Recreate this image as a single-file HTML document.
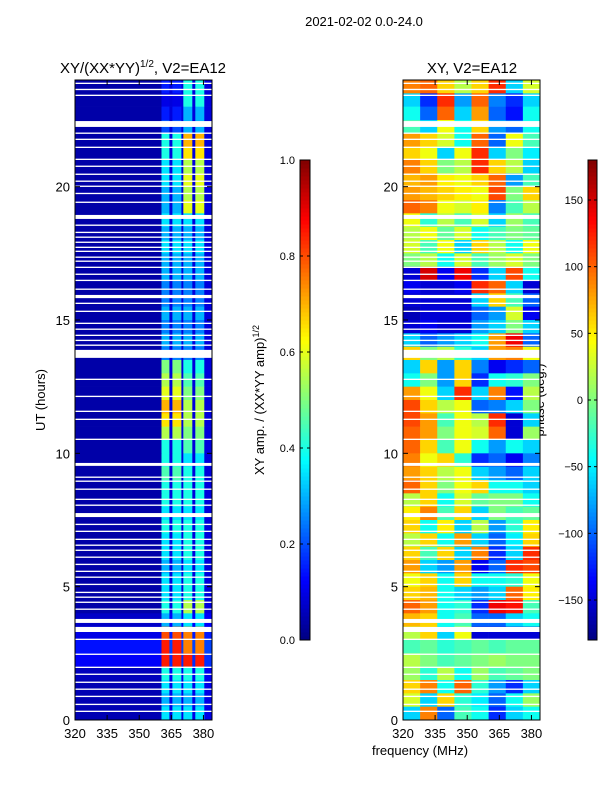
<!DOCTYPE html>
<html><head><meta charset="utf-8"><style>
body{margin:0;background:#fff;}
svg text{font-family:"Liberation Sans",sans-serif;fill:#000;}
</style></head><body>
<svg id="fig" width="600" height="800" xmlns="http://www.w3.org/2000/svg">
<rect width="600" height="800" fill="#fff"/>
<text x="364" y="26" font-size="13" text-anchor="middle">2021-02-02 0.0-24.0</text>
<text x="143" y="73" font-size="15" text-anchor="middle">XY/(XX*YY)<tspan font-size="10" dy="-6">1/2</tspan><tspan dy="6">, V2=EA12</tspan></text>
<text x="472" y="73" font-size="15" text-anchor="middle">XY, V2=EA12</text>
<text transform="translate(45,400) rotate(-90)" font-size="13" text-anchor="middle">UT (hours)</text>
<text x="420" y="755" font-size="13" text-anchor="middle">frequency (MHz)</text>
<text transform="translate(264,400) rotate(-90)" font-size="13" text-anchor="middle">XY amp. / (XX*YY amp)<tspan font-size="9" dy="-5">1/2</tspan></text>
<text transform="translate(544,400) rotate(-90)" font-size="13" text-anchor="middle">phase (deg.)</text>
<g id="left"></g>
<g id="right"></g>
<g id="cb1"></g>
<g id="cb2"></g>
</svg>
<script>
const rowHours = [23.75,23.25,22.75,22.25,21.75,21.25,20.75,20.25,19.75,19.25,18.75,18.25,17.75,17.25,16.75,16.25,15.75,15.25,14.75,14.25,13.75,13.25,12.75,12.25,11.75,11.25,10.75,10.25,9.75,9.25,8.75,8.25,7.75,7.25,6.75,6.25,5.75,5.25,4.75,4.25,3.75,3.25,2.75,2.25,1.75,1.25,0.75,0.25];
const ampHighBands = [0.4,0.4,0.3,0.3,0.7,0.65,0.55,0.6,0.55,0.6,0.35,0.3,0.35,0.3,0.3,0.25,0.25,0.3,0.25,0.3,0.25,0.4,0.45,0.5,0.55,0.55,0.5,0.45,0.35,0.4,0.4,0.4,0.35,0.4,0.4,0.4,0.35,0.4,0.4,0.55,0.35,0.75,0.75,0.85,0.4,0.35,0.3,0.35];
const ampLowBands = [0.15,0.1,0.15,0.2,0.4,0.4,0.35,0.35,0.3,0.3,0.35,0.3,0.35,0.3,0.3,0.25,0.25,0.3,0.25,0.3,0.25,0.5,0.55,0.6,0.7,0.65,0.55,0.4,0.4,0.45,0.4,0.4,0.35,0.4,0.35,0.35,0.3,0.35,0.35,0.4,0.3,0.8,0.85,0.85,0.4,0.35,0.3,0.35];
const ampBackground = [0.04,0.04,0.04,0.04,0.04,0.04,0.04,0.04,0.04,0.04,0.04,0.04,0.04,0.04,0.04,0.04,0.04,0.04,0.04,0.04,0.04,0.04,0.04,0.04,0.04,0.04,0.04,0.04,0.04,0.04,0.04,0.04,0.04,0.04,0.04,0.04,0.04,0.04,0.04,0.04,0.07,0.1,0.14,0.12,0.06,0.05,0.05,0.05];
const ampBandEdges = [320,360.4,364.1,365.5,369.7,370.6,374.8,376.2,380.4,384];
const ampBandType = [0,1,3,1,3,2,3,2,3];
const phaseFreqEdges = [320,328,336,344,352,360,368,376,384];
const phase = [
[90,100,60,20,60,120,-60,30],[-60,-120,120,-80,100,-90,-120,-60],[-40,-100,100,-60,80,-100,-130,-40],[-20,-60,40,-40,60,-80,-100,-40],
[80,60,30,-40,100,-100,40,-20],[60,40,-60,40,120,-60,0,-50],[90,60,0,20,120,60,20,-60],[70,80,50,40,60,100,-80,-20],
[80,70,60,50,40,110,0,60],[100,90,40,30,50,-90,-20,20],[40,-30,20,-20,30,-60,10,-20],[20,40,-10,30,-40,-20,0,-10],
[30,-20,40,-60,60,20,-40,40],[0,20,-40,30,-20,10,30,0],[-150,150,-140,140,-120,-60,110,-40],[-140,-150,-150,-140,120,100,-60,-150],
[-150,-150,-150,-150,-60,60,-20,-100],[-160,-150,-150,-150,-100,-80,30,-140],[-150,-140,-150,-150,-80,-60,0,-60],[-60,-100,-80,-60,-40,80,140,-100],
[60,0,20,-30,-60,80,90,40],[-60,60,-80,60,-90,-140,-120,-100],[-40,0,-80,60,-120,-40,-30,0],[80,40,-60,120,-60,90,-130,20],
[110,60,20,40,-100,-90,-60,0],[110,80,-20,40,20,120,-150,-60],[100,80,0,40,30,100,-150,10],[100,60,-20,40,-40,-80,-40,-60],
[90,40,60,-30,-120,-100,-140,-90],[80,60,20,40,-60,-80,-100,-60],[100,60,0,40,60,-40,-40,-60],[20,60,-40,30,-10,0,0,-40],
[50,90,-20,60,-60,0,-20,-10],[60,-40,50,-60,20,-80,-30,50],[20,60,-40,80,-60,-100,-50,60],[60,-20,60,-60,90,-120,-60,120],
[80,-60,-80,80,-140,-100,120,110],[40,60,-40,60,-40,-40,-30,40],[60,70,-40,-60,-80,-60,100,50],[100,80,-40,-30,-120,140,130,-20],
[70,60,-40,-20,-100,-100,-60,-40],[20,60,-60,40,-150,-150,-150,-150],[-20,-10,-30,-20,-10,-20,-10,-10],[20,0,-20,-10,0,10,0,0],
[10,-30,20,-40,10,-20,-10,0],[60,90,-40,100,-30,-80,-120,-60],[30,-60,60,-30,-50,-100,-40,10],[-60,90,-100,-20,-40,-120,-60,-40]];
const gapStart = [23.85,23.62,23.4,22.24,21.98,21.75,21.45,21.0,20.74,20.44,20.18,19.99,19.72,19.39,18.79,18.53,18.26,18.08,17.89,17.7,17.55,17.33,17.18,16.95,16.69,16.46,16.13,15.82,15.6,15.3,14.85,14.63,14.4,14.21,14.03,13.58,12.75,12.11,11.55,11.25,10.5,9.53,9.08,8.93,8.63,8.25,8.03,7.61,7.31,7.05,6.75,6.53,6.34,6.08,5.81,5.55,5.33,5.06,4.76,4.58,4.39,4.13,3.64,3.3,3.0,2.44,1.95,1.69,1.39,1.13,0.86,0.56,0.3];
const gapEnd = [23.9,23.67,23.45,22.46,22.03,21.8,21.5,21.05,20.79,20.49,20.23,20.04,19.77,19.44,18.94,18.58,18.31,18.13,17.94,17.75,17.6,17.38,17.23,17.0,16.74,16.51,16.18,15.94,15.65,15.35,14.9,14.68,14.45,14.26,14.08,13.88,12.8,12.16,11.6,11.3,10.55,9.64,9.13,8.98,8.68,8.3,8.08,7.76,7.36,7.1,6.8,6.58,6.39,6.13,5.86,5.6,5.38,5.11,4.81,4.63,4.44,4.18,3.79,3.49,3.05,2.49,2.0,1.74,1.44,1.18,0.91,0.61,0.35];
const xTicks = [320,335,350,365,380];
const yTicks = [0,5,10,15,20];
const ampTicks = [0.0,0.2,0.4,0.6,0.8,1.0];
const phaseTicks = [-150,-100,-50,0,50,100,150];

const NS='http://www.w3.org/2000/svg';
function jet(t){t=Math.max(0,Math.min(1,t));const c=v=>Math.round(255*Math.max(0,Math.min(1,1.5-Math.abs(v))));return `rgb(${c(4*t-3)},${c(4*t-2)},${c(4*t-1)})`;}
function mk(parent,tag,attrs){const e=document.createElementNS(NS,tag);for(const k in attrs)e.setAttribute(k,attrs[k]);parent.appendChild(e);return e;}
const Y0=80,Y1=720;
const yScale=h=>Y1-(h/24)*(Y1-Y0);
function panel(gid,x0,x1,fill){
  const g=document.getElementById(gid);
  const xScale=f=>x0+(f-320)/64*(x1-x0);
  fill(g,xScale);
  for(let i=0;i<gapStart.length;i++){
    const r=mk(g,'rect',{x:x0,y:yScale(gapEnd[i]),width:x1-x0,height:yScale(gapStart[i])-yScale(gapEnd[i]),fill:'#fff'});
    
    
  }
  const fr=mk(g,'rect',{x:x0,y:Y0,width:x1-x0,height:Y1-Y0,fill:'none',stroke:'#000','stroke-width':1});
  
  
  xTicks.forEach(v=>{const x=xScale(v);
    mk(g,'line',{x1:x,x2:x,y1:Y1,y2:Y1-5,stroke:'#000'});mk(g,'line',{x1:x,x2:x,y1:Y0,y2:Y0+5,stroke:'#000'});
    const t=mk(g,'text',{x:x,y:Y1+18,'font-size':13,'text-anchor':'middle'});t.textContent=v;
    
    });
  yTicks.forEach(v=>{const y=yScale(v);
    mk(g,'line',{x1:x0,x2:x0+5,y1:y,y2:y,stroke:'#000'});mk(g,'line',{x1:x1,x2:x1-5,y1:y,y2:y,stroke:'#000'});
    const t=mk(g,'text',{x:x0-5,y:y+5,'font-size':13,'text-anchor':'end'});t.textContent=v;
    
    });
}
panel('left',75,212,(g,xs)=>{
  rowHours.forEach((h,i)=>{
    for(let b=0;b<ampBandType.length;b++){
      const ty=ampBandType[b];
      const v=ty===0?ampBackground[i]:ty===1?ampLowBands[i]:ty===2?ampHighBands[i]:ampBackground[i]+0.05;
      const r=mk(g,'rect',{x:xs(ampBandEdges[b]),y:yScale(h+0.25),width:xs(ampBandEdges[b+1])-xs(ampBandEdges[b])+0.3,height:yScale(h-0.25)-yScale(h+0.25)+0.3,fill:jet(v)});
      
      
    }
  });
});
panel('right',403,540,(g,xs)=>{
  rowHours.forEach((h,i)=>{
    phase[i].forEach((p,j)=>{
      const r=mk(g,'rect',{x:xs(phaseFreqEdges[j]),y:yScale(h+0.25),width:xs(phaseFreqEdges[j+1])-xs(phaseFreqEdges[j])+0.3,height:yScale(h-0.25)-yScale(h+0.25)+0.3,fill:jet((p+180)/360)});
      
      
    });
  });
});
function colorbar(gid,x0,w,vmin,vmax,ticks,fmt){
  const g=document.getElementById(gid);const top=160,bot=640,n=120;
  for(let i=0;i<n;i++){mk(g,'rect',{x:x0,y:bot-(i+1)*(bot-top)/n,width:w,height:(bot-top)/n+0.5,fill:jet((i+0.5)/n)});}
  mk(g,'rect',{x:x0,y:top,width:w,height:bot-top,fill:'none',stroke:'#000'});
  ticks.forEach(v=>{const y=bot-(v-vmin)/(vmax-vmin)*(bot-top);
    mk(g,'line',{x1:x0,x2:x0+3,y1:y,y2:y,stroke:'#000'});mk(g,'line',{x1:x0+w,x2:x0+w-3,y1:y,y2:y,stroke:'#000'});
    const t=mk(g,'text',{x:x0-5,y:y+4,'font-size':11,'text-anchor':'end'});t.textContent=fmt(v);
    
    });
}
colorbar('cb1',300,10,0,1,ampTicks,v=>v.toFixed(1));
colorbar('cb2',588,9,-180,180,phaseTicks,v=>v<0?'\u2212'+(-v):''+v);
</script>
</body></html>
